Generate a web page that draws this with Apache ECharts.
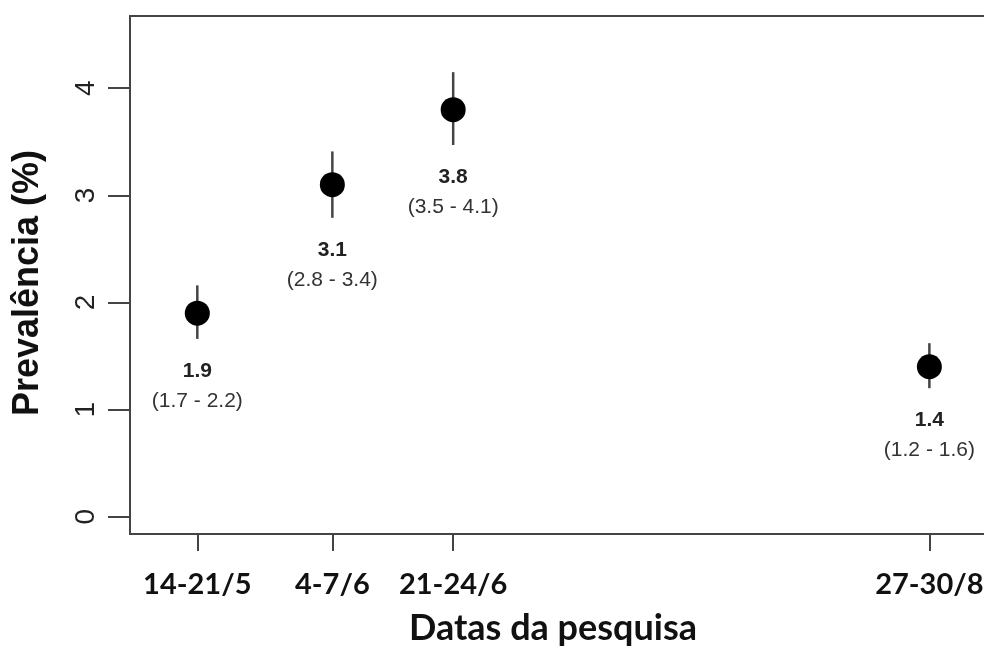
<!DOCTYPE html>
<html>
<head>
<meta charset="utf-8">
<script src="https://cdn.jsdelivr.net/npm/echarts@6/dist/echarts.min.js"></script>
<style>html,body{margin:0;padding:0;background:#fff;overflow:hidden;}#c{width:984px;height:648px;}</style>
</head>
<body>
<div id="c"></div>
<script>
// survey dates, positioned as days since 1 May (midpoint of each survey window)
const categories = ['14-21/5', '4-7/6', '21-24/6', '27-30/8'];
const dayPositions = [16.5, 35.5, 52.5, 119.5];
const prevalence = [1.9, 3.1, 3.8, 1.4];
const ciLow = [1.66, 2.79, 3.47, 1.20];
const ciHigh = [2.16, 3.41, 4.15, 1.62];
const valueLabels = ['1.9', '3.1', '3.8', '1.4'];
const ciLabels = ['(1.7 - 2.2)', '(2.8 - 3.4)', '(3.5 - 4.1)', '(1.2 - 1.6)'];
const yTicks = [0, 1, 2, 3, 4];

const chart = echarts.init(document.getElementById('c'), null, {renderer: 'canvas'});

const pointData = dayPositions.map((d, i) => [d, prevalence[i]]);
const barData = dayPositions.map((d, i) => [d, ciLow[i], ciHigh[i], i]);

const option = {
  animation: false,
  backgroundColor: '#ffffff',
  grid: {
    left: 130, width: 860, top: 16, height: 518,
    outerBoundsMode: 'none',
    containLabel: false,
    show: true, borderColor: '#444', borderWidth: 2, backgroundColor: 'transparent'
  },
  xAxis: {
    type: 'value',
    min: 7.03, max: 128.03,
    name: 'Datas da pesquisa',
    nameLocation: 'middle',
    nameGap: 76,
    nameTextStyle: {fontFamily: 'Lato', fontWeight: 'bold', fontSize: 36, color: '#111', padding: [0, 14, 0, 0]},
    axisLine: {show: true, onZero: false, lineStyle: {color: '#444', width: 2}},
    splitLine: {show: false},
    axisTick: {show: true, inside: false, length: 17, customValues: dayPositions, lineStyle: {color: '#444', width: 2}},
    axisLabel: {
      customValues: dayPositions,
      margin: 36,
      fontFamily: 'Lato', fontWeight: 'bold', fontSize: 29, color: '#111',
      formatter: v => { const i = dayPositions.indexOf(v); return i >= 0 ? categories[i] : ''; }
    }
  },
  yAxis: {
    type: 'value',
    min: -0.161, max: 4.674,
    name: 'Prevalência (%)',
    nameLocation: 'middle',
    nameGap: 84,
    nameTextStyle: {fontFamily: 'Liberation Sans', fontWeight: 'bold', fontSize: 36, color: '#111', padding: [0, 16, 0, 0]},
    axisLine: {show: true, onZero: false, lineStyle: {color: '#444', width: 2}},
    splitLine: {show: false},
    axisTick: {show: true, inside: false, length: 22, customValues: yTicks, lineStyle: {color: '#444', width: 2}},
    axisLabel: {
      customValues: yTicks,
      rotate: 90,
      margin: 30,
      fontFamily: 'Liberation Sans', fontSize: 28, color: '#222'
    }
  },
  series: [
    {
      type: 'custom',
      renderItem: (params, api) => {
        const x = api.value(0);
        const lo = api.coord([x, api.value(1)]);
        const hi = api.coord([x, api.value(2)]);
        const i = api.value(3);
        return {
          type: 'group',
          children: [
            {type: 'line', shape: {x1: lo[0], y1: lo[1], x2: hi[0], y2: hi[1]}, style: {stroke: '#444', lineWidth: 2.5}},
            {type: 'text', x: lo[0], y: lo[1] + 32, style: {text: valueLabels[i], fontFamily: 'Liberation Sans', fontWeight: 'bold', fontSize: 21, fill: '#222', align: 'center', verticalAlign: 'middle'}},
            {type: 'text', x: lo[0], y: lo[1] + 62, style: {text: ciLabels[i], fontFamily: 'Liberation Sans', fontSize: 21, fill: '#333', align: 'center', verticalAlign: 'middle'}}
          ]
        };
      },
      data: barData,
      z: 2
    },
    {
      type: 'scatter',
      data: pointData,
      symbol: 'circle',
      symbolSize: 25,
      itemStyle: {color: '#000', opacity: 1},
      z: 3
    }
  ]
};
chart.setOption(option);
</script>
</body>
</html>
